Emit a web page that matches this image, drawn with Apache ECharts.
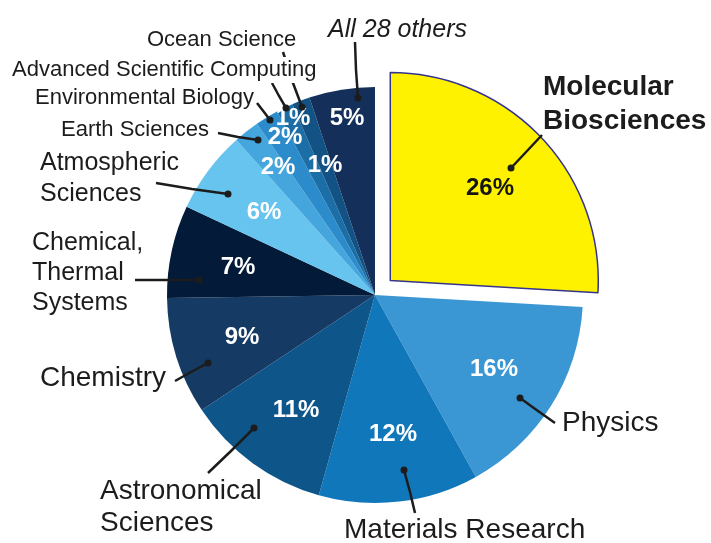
<!DOCTYPE html>
<html>
<head>
<meta charset="utf-8">
<title>Allocation by field</title>
<script src="https://cdn.jsdelivr.net/npm/echarts@6/dist/echarts.min.js"></script>
<style>
  html, body { margin: 0; padding: 0; background: #fff; }
  #chart { width: 711px; height: 543px; }
</style>
</head>
<body>
<div id="chart"></div>
<script>
// fields, clockwise from 12 o'clock
const fields = [
  "Molecular Biosciences", "Physics", "Materials Research", "Astronomical Sciences",
  "Chemistry", "Chemical, Thermal Systems", "Atmospheric Sciences", "Earth Sciences",
  "Environmental Biology", "Advanced Scientific Computing", "Ocean Science", "All 28 others"
];
// share of the total, %
const shares = [25.9, 16.0, 12.4, 11.3, 9.1, 7.2, 6.4, 2.0, 1.8, 1.3, 1.4, 5.1];

const sliceColors = [
  "#fff200", "#3b97d3", "#1177bb", "#0e5589", "#153a64", "#031a38",
  "#66c4ef", "#45a6de", "#2c8ccb", "#1c6ea6", "#135285", "#142f5a"
];

const FONT = '"Liberation Sans", Arial, Helvetica, sans-serif';
const CX = 375, CY = 295, R = 208;
const EXPLODE = 21; // the first slice is pulled out

// where the percentages sit (hand placed in the original)
const pctAt = [
  [490, 188], [494, 369], [393, 434], [296, 410], [242, 337], [238, 267],
  [264, 212], [278, 167], [285, 137], [293, 118], [325, 165], [347, 118]
];

// outside names: text, left x, middle y, font, and the leader line (dot first)
const outer = [
  { text: "Molecular\nBiosciences", x: 543, y: 104, size: 28, lh: 34, weight: "bold", line: [[511, 168], [527, 151], [542, 135]] },
  { text: "Physics", x: 562, y: 423, size: 28, lh: 32, line: [[520, 398], [538, 411], [555, 423]] },
  { text: "Materials Research", x: 344, y: 530, size: 28, lh: 32, line: [[404, 470], [410, 492], [415, 513]] },
  { text: "Astronomical\nSciences", x: 100, y: 507, size: 28, lh: 32, line: [[254, 428], [231, 451], [208, 473]] },
  { text: "Chemistry", x: 40, y: 378, size: 28, lh: 32, line: [[208, 363], [191, 372], [175, 381]] },
  { text: "Chemical,\nThermal\nSystems", x: 32, y: 273, size: 25, lh: 30, line: [[199, 280], [167, 280], [135, 280]] },
  { text: "Atmospheric\nSciences", x: 40, y: 179, size: 25, lh: 31, line: [[228, 194], [192, 189], [156, 183]] },
  { text: "Earth Sciences", x: 61, y: 130, size: 22, lh: 26, line: [[258, 140], [238, 137], [218, 133]] },
  { text: "Environmental Biology", x: 35, y: 98, size: 22, lh: 26, line: [[270, 120], [264, 112], [257, 103]] },
  { text: "Advanced Scientific Computing", x: 10, y: 70, size: 22, lh: 26, bg: true, line: [[286, 108], [279, 96], [272, 83]] },
  { text: "Ocean Science", x: 147, y: 40, size: 22, lh: 26, line: [[302, 107], [293, 83], [283, 52]] },
  { text: "All 28 others", x: 328, y: 30, size: 25, lh: 28, style: "italic", line: [[358, 98], [356, 70], [355, 42]] }
];

const chart = echarts.init(document.getElementById("chart"));

// direction of the pulled-out slice: the middle of its angle
const total = shares.reduce((a, b) => a + b, 0);
const midAngle = (shares[0] / total) * Math.PI; // half of its sweep, from 12 o'clock
const dx = EXPLODE * Math.sin(midAngle);
const dy = -EXPLODE * Math.cos(midAngle);

const CLEAR = "rgba(0,0,0,0)";

const pieBase = {
  type: "pie",
  radius: [0, R],
  startAngle: 90,
  clockwise: true,
  avoidLabelOverlap: false,
  silent: true,
  emphasis: { disabled: true }
};

const pctLabel = {
  position: "inside",
  formatter: p => Math.round(p.value) + "%",
  color: "#fff",
  fontFamily: FONT,
  fontWeight: "bold",
  fontSize: 24
};

const pctLayout = p => ({
  x: pctAt[p.dataIndex][0],
  y: pctAt[p.dataIndex][1],
  align: "center",
  verticalAlign: "middle"
});

// all slices except the pulled-out one
const restData = fields.map((name, i) => ({
  name: name,
  value: shares[i],
  itemStyle: { color: i === 0 ? CLEAR : sliceColors[i], borderWidth: 0 },
  label: { show: i !== 0 }
}));

// only the pulled-out one, drawn from a shifted centre
const topData = fields.map((name, i) => ({
  name: name,
  value: shares[i],
  itemStyle: i === 0
    ? { color: sliceColors[i], borderColor: "#34348e", borderWidth: 1.5 }
    : { color: CLEAR, borderWidth: 0 },
  label: i === 0 ? { show: true, color: "#151515" } : { show: false }
}));

const nameData = fields.map((name, i) => ({
  name: name,
  value: shares[i],
  itemStyle: { color: CLEAR, borderWidth: 0 },
  label: {
    fontSize: outer[i].size,
    lineHeight: outer[i].lh,
    fontWeight: outer[i].weight || "normal",
    fontStyle: outer[i].style || "normal",
    backgroundColor: outer[i].bg ? "#fff" : "transparent",
    padding: outer[i].bg ? [0, 2] : 0
  }
}));

const dots = outer.map(o => ({
  type: "circle",
  z: 100,
  shape: { cx: o.line[0][0], cy: o.line[0][1], r: 3.5 },
  style: { fill: "#1c1c1c" }
}));

chart.setOption({
  animation: false,
  backgroundColor: "#fff",
  graphic: dots,
  series: [
    Object.assign({}, pieBase, {
      z: 2,
      center: [CX, CY],
      data: restData,
      label: pctLabel,
      labelLine: { show: false },
      labelLayout: pctLayout
    }),
    Object.assign({}, pieBase, {
      z: 3,
      center: [CX + dx, CY + dy],
      data: topData,
      label: pctLabel,
      labelLine: { show: false },
      labelLayout: pctLayout
    }),
    Object.assign({}, pieBase, {
      z: 5,
      center: [CX, CY],
      data: nameData,
      label: {
        position: "outside",
        formatter: p => outer[p.dataIndex].text,
        color: "#1c1c1c",
        fontFamily: FONT,
        overflow: "none"
      },
      labelLine: {
        show: true,
        length: 10,
        length2: 10,
        lineStyle: { color: "#1c1c1c", width: 2.5 }
      },
      labelLayout: p => ({
        x: outer[p.dataIndex].x,
        y: outer[p.dataIndex].y,
        align: "left",
        verticalAlign: "middle",
        labelLinePoints: outer[p.dataIndex].line
      })
    })
  ]
});
</script>
</body>
</html>
